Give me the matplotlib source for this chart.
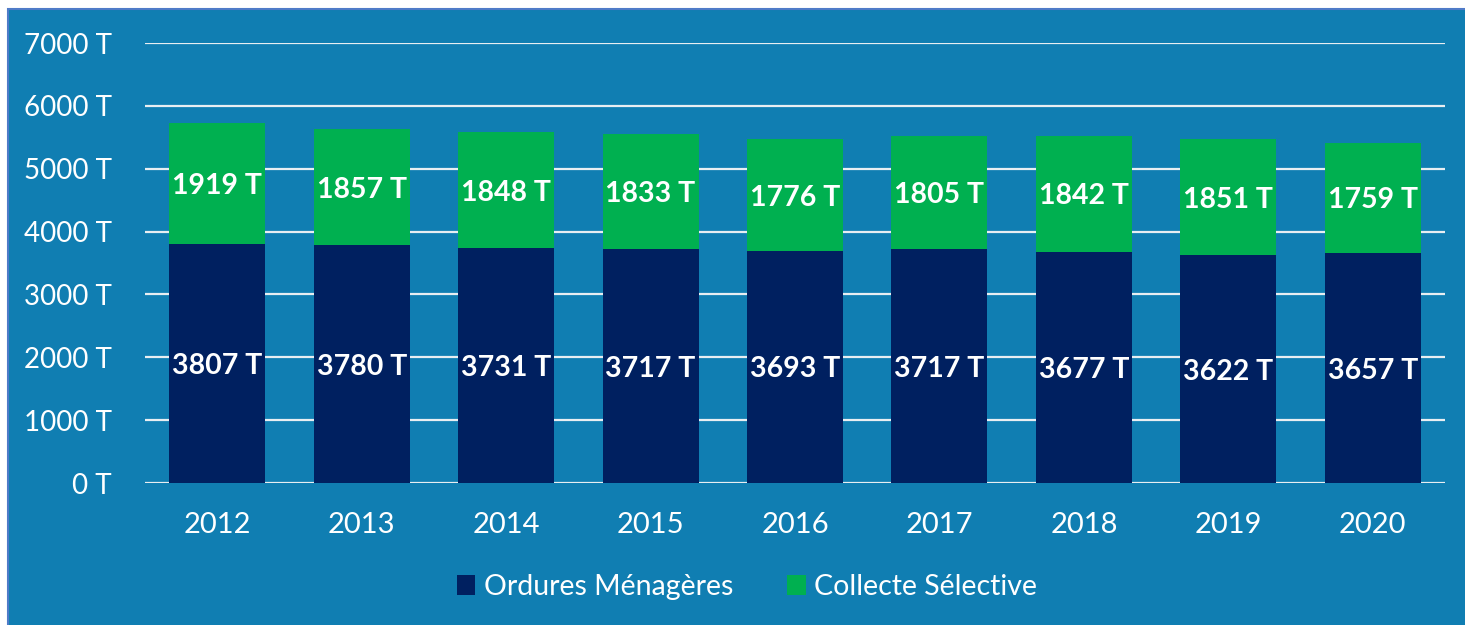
import matplotlib
matplotlib.use("Agg")
import matplotlib.pyplot as plt
from matplotlib.patches import Rectangle
import numpy as np

years = ["2012", "2013", "2014", "2015", "2016", "2017", "2018", "2019", "2020"]
ordures = [3807, 3780, 3731, 3717, 3693, 3717, 3677, 3622, 3657]
collecte = [1919, 1857, 1848, 1833, 1776, 1805, 1842, 1851, 1759]
yticks = [0, 1000, 2000, 3000, 4000, 5000, 6000, 7000]

BG = "#107EB2"
NAVY = "#002060"
GREEN = "#00B050"
FONT = ["Lato", "DejaVu Sans"]

W, H = 1465, 625
fig = plt.figure(figsize=(W / 100, H / 100), dpi=100)
fig.patch.set_facecolor("white")
fig.patches.append(Rectangle((8 / W, -0.05), 1.1, 1.05 - 9 / H, transform=fig.transFigure,
                             facecolor=BG, edgecolor="#4F7BC8", linewidth=1.5, zorder=-10))

ax = fig.add_axes([145 / W, (H - 483) / H, 1300 / W, 440 / H])
ax.set_facecolor("none")
x = np.arange(len(years))
ax.bar(x, ordures, width=0.665, color=NAVY, zorder=3, label="Ordures Ménagères")
ax.bar(x, collecte, width=0.665, bottom=ordures, color=GREEN, zorder=3, label="Collecte Sélective")

for i in range(len(years)):
    ax.text(x[i], ordures[i] / 2 - 40, f"{ordures[i]} T", ha="center", va="center",
            color="white", fontsize=20.5, fontweight="bold", family=FONT, zorder=4)
    ax.text(x[i], ordures[i] + collecte[i] / 2 - 40, f"{collecte[i]} T", ha="center", va="center",
            color="white", fontsize=20.5, fontweight="bold", family=FONT, zorder=4)

ax.set_xlim(-0.5, len(years) - 0.5)
ax.set_ylim(0, 7000)
ax.set_yticks(yticks)
ax.set_yticklabels([f"{v} T" for v in yticks], family=FONT, fontsize=20, color="white")
ax.set_xticks(x)
ax.set_xticklabels(years, family=FONT, fontsize=21, color="white")
ax.tick_params(axis="both", length=0)
ax.tick_params(axis="y", pad=24)
ax.tick_params(axis="x", pad=21)
ax.grid(axis="y", color="#E8EEF2", linewidth=1.6, zorder=1)
for s in ax.spines.values():
    s.set_visible(False)

leg = ax.legend(loc="center", bbox_to_anchor=(747 / W, (H - 587) / H), bbox_transform=fig.transFigure,
                ncol=2, frameon=False, prop={"family": FONT, "size": 20.5},
                handlelength=0.65, handleheight=0.65, handletextpad=0.3, columnspacing=1.9)
for t in leg.get_texts():
    t.set_color("white")

fig.savefig("out.png", dpi=100, facecolor=fig.get_facecolor())
